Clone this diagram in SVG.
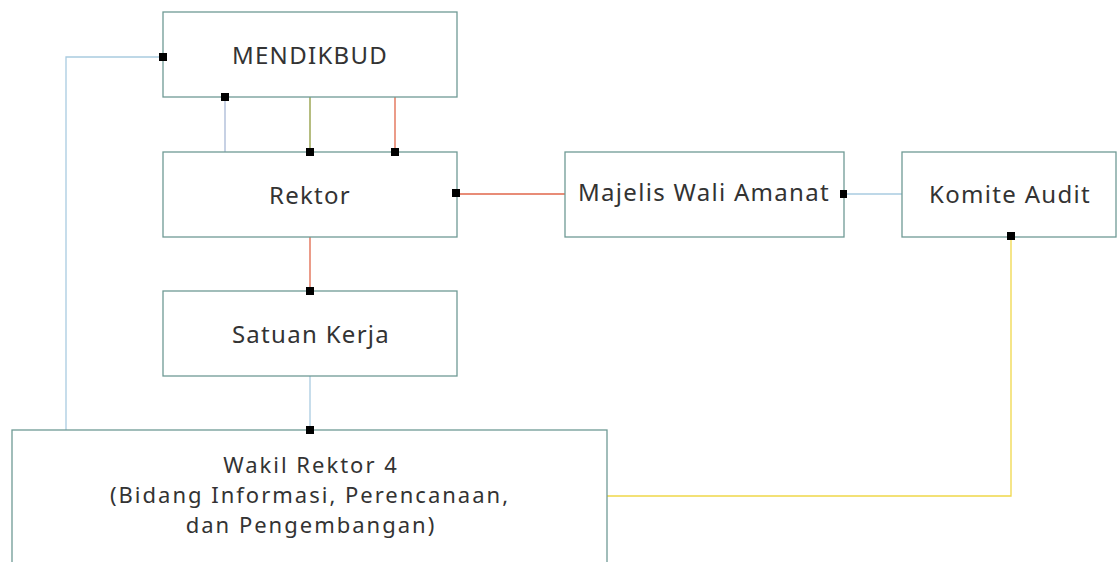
<svg xmlns="http://www.w3.org/2000/svg" width="1120" height="562" viewBox="0 0 1120 562">
<style>
.box{fill:#fff;stroke:#6f9a95;stroke-width:1.3}
.t{font-family:"Noto Sans","Open Sans",sans-serif;font-size:24px;letter-spacing:1.3px;fill:#333;text-anchor:middle}
.w{font-size:22px;letter-spacing:2px}
.c{fill:none;stroke-width:1.3}
.m{fill:#000}
</style>
<rect width="1120" height="562" fill="#fff"/>
<g id="connectors">
<polyline class="c" stroke="#a9cbe0" points="163,57 66,57 66,430"/>
<line class="c" stroke="#a9b9d6" x1="225" y1="97" x2="225" y2="152"/>
<line class="c" stroke="#8e9a3c" x1="310" y1="97" x2="310" y2="152"/>
<line class="c" stroke="#e0664a" x1="395" y1="97" x2="395" y2="152"/>
<line class="c" stroke="#e0664a" x1="456" y1="194" x2="565" y2="194"/>
<line class="c" stroke="#a9cbe0" x1="844" y1="194" x2="902" y2="194"/>
<line class="c" stroke="#e0664a" x1="310" y1="237" x2="310" y2="291"/>
<line class="c" stroke="#a9cbe0" x1="310" y1="376" x2="310" y2="430"/>
<polyline class="c" stroke="#f0d84a" stroke-width="1.6" points="1011,236 1011,496 607,496"/>
</g>
<g id="mendikbud"><rect class="box" x="163" y="12" width="294" height="85"/><text class="t" x="310" y="64">MENDIKBUD</text></g>
<g id="rektor"><rect class="box" x="163" y="152" width="294" height="85"/><text class="t" x="310" y="204">Rektor</text></g>
<g id="mwa"><rect class="box" x="565" y="152" width="279" height="85"/><text class="t" x="704" y="201">Majelis Wali Amanat</text></g>
<g id="komite"><rect class="box" x="902" y="152" width="214" height="85"/><text class="t" x="1010" y="203">Komite Audit</text></g>
<g id="satker"><rect class="box" x="163" y="291" width="294" height="85"/><text class="t" x="311" y="343">Satuan Kerja</text></g>
<g id="wr4"><rect class="box" x="12" y="430" width="595" height="140"/>
<text class="t w" x="311" y="473">Wakil Rektor 4</text>
<text class="t w" x="310" y="503">(Bidang Informasi, Perencanaan,</text>
<text class="t w" x="311" y="533">dan Pengembangan)</text></g>
<g id="markers">
<rect class="m" x="159" y="53" width="8" height="8"/>
<rect class="m" x="221" y="93" width="8" height="8"/>
<rect class="m" x="306" y="148" width="8" height="8"/>
<rect class="m" x="391" y="148" width="8" height="8"/>
<rect class="m" x="452" y="189" width="8" height="8"/>
<rect class="m" x="840" y="190" width="7" height="8"/>
<rect class="m" x="1007" y="232" width="8" height="8"/>
<rect class="m" x="306" y="287" width="8" height="8"/>
<rect class="m" x="306" y="426" width="8" height="8"/>
</g>
</svg>
